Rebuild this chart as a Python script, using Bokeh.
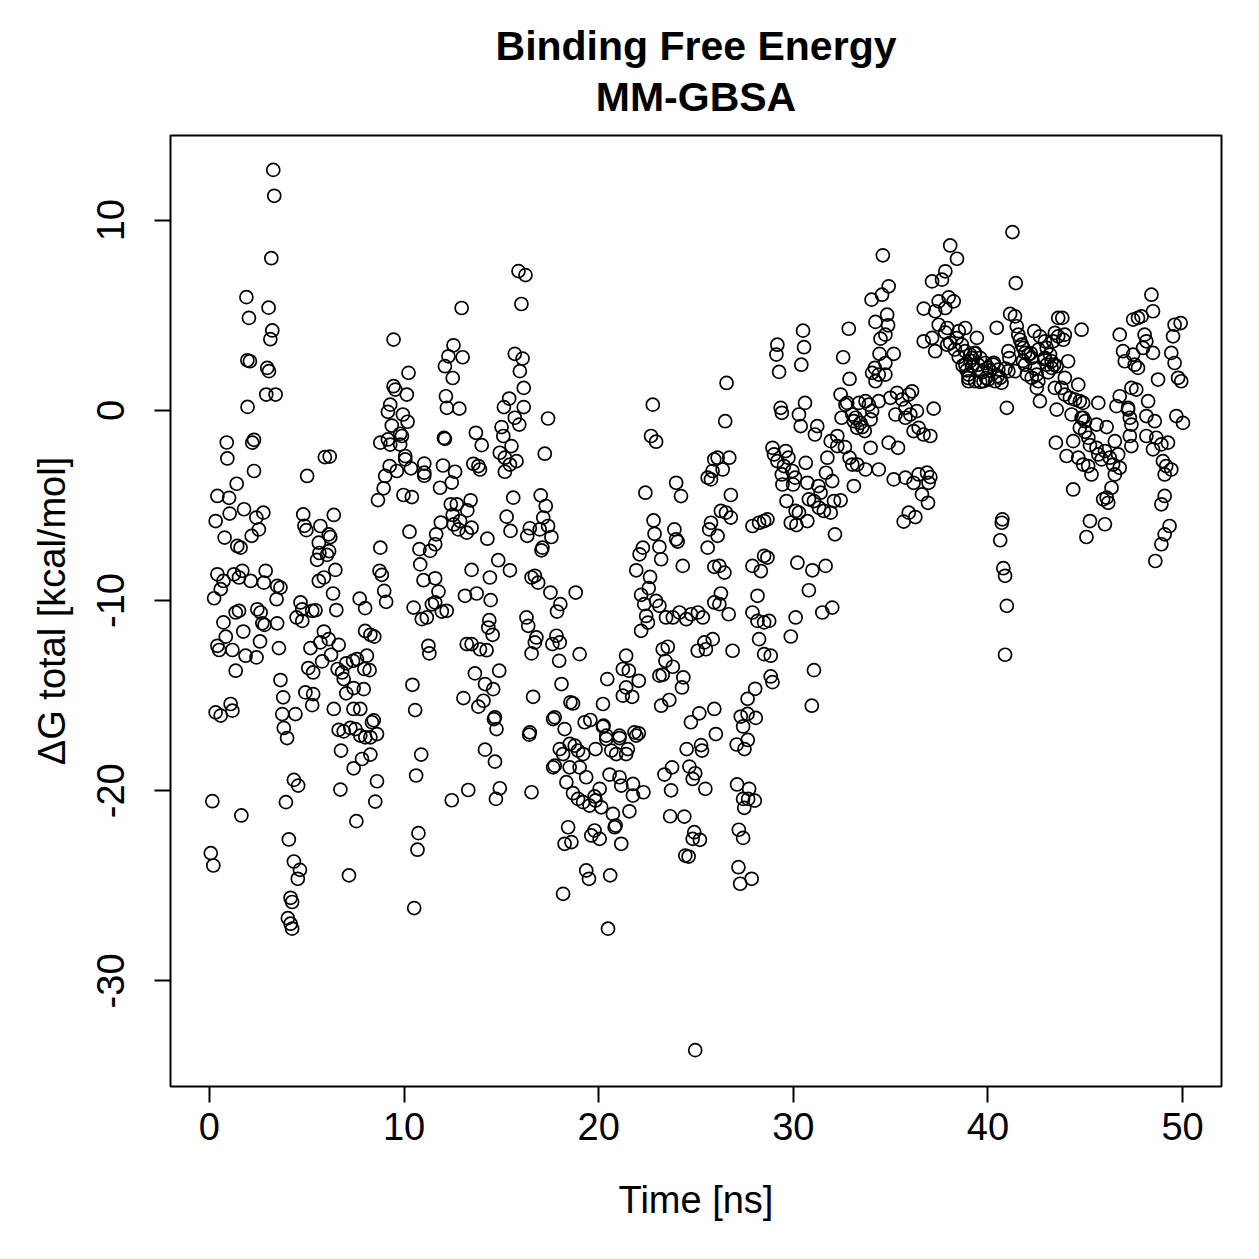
from bokeh.plotting import figure
from bokeh.models import Range1d, FixedTicker, Title, ColumnDataSource
from bokeh.embed import file_html
from bokeh.resources import INLINE

# ---- data: time [ns] and dG total [kcal/mol] ----
t_a = [3.28,3.33,3.18,1.9,3.04,2.03,3.23,3.13,1.95,2.08,
       2.97,3.06,2.92,3.4,1.96,0.89,2.29,2.2,0.92,2.29,
       1.4,0.41,1.01,5.02,5.93,6.18,1.78,1.04,2.77,2.41,
       0.32,2.54,2.17,0.78,1.43,1.6,4.82,5.7,4.88,4.98,
       6.39,5.62,6.13,6.21,5.65,6.15,8.78,9.46,10.23,9.46,
       9.55,10.14,9.29,9.17,9.94,10.18,9.37,9.8,9.89,8.78,
       9.17,9.29,9.8,10.06,10.06,10.35,9.26,9.03,9.63,11.04,
       11.04,11.04,8.95,8.66,9.97,10.4,10.28,10.79,11.34,11.6,
       11.65,11.89,12.1,12.28,12.54,12.15,12.2,12.5,12.05,12.1,
       12.0,11.85,12.45,12.4,12.5,12.55,12.96]
g_a = [12.64,11.28,8.0,5.95,5.4,4.86,4.2,3.74,2.63,2.58,
       2.23,2.06,0.83,0.83,0.18,-1.69,-1.55,-1.7,-2.53,-3.19,
       -3.86,-4.5,-4.6,-3.45,-2.46,-2.43,-5.2,-5.43,-5.38,-5.64,
       -5.82,-6.26,-6.6,-6.69,-7.13,-7.22,-5.47,-6.08,-6.07,-6.3,
       -5.5,-6.96,-6.52,-6.66,-7.5,-7.4,-7.22,3.72,1.97,1.27,
       1.09,0.83,0.3,-0.08,-0.22,-0.6,-0.8,-1.23,-1.35,-1.7,
       -1.53,-1.8,-1.8,-2.4,-2.58,-3.05,-2.93,-3.45,-3.19,-2.8,
       -3.28,-3.44,-4.1,-4.72,-4.45,-4.56,-6.38,-7.3,-7.39,-7.04,
       -6.52,-5.9,2.32,2.84,3.42,0.74,0.13,1.7,-1.45,-1.5,
       -2.9,-4.07,-3.8,-4.94,-5.5,-6.0,5.38]

t_b = [0.41,0.72,0.58,0.24,1.26,1.69,1.52,2.12,2.89,2.8,
       3.48,3.65,3.45,1.35,1.52,0.72,2.46,2.63,2.72,2.83,
       3.48,1.74,0.84,0.41,0.5,1.18,2.6,1.86,2.42,3.57,
       1.35,4.68,4.77,5.28,5.45,4.48,4.77,5.88,5.7,6.13,
       6.64,5.19,6.25,5.79,5.08,5.33,3.65,3.79,4.93,5.33,
       5.28,3.74,4.42,3.82,3.99,6.39,7.72,8.0,8.0,8.27,
       8.47,8.74,8.86,8.98,9.08,6.35,6.52,5.62,5.88,6.47,
       6.04,5.53,8.09,7.38,7.58,7.03,6.59,6.82,6.9,7.03,
       7.41,7.93,8.23,7.96,7.4,7.75,6.64,6.9,7.24,7.5,
       7.75,8.01,8.44,8.35,8.61,8.27,6.76,7.41,7.84,8.27,
       4.34,4.56,6.73,8.61,8.52,7.55,7.17,0.15,1.64,3.93,
       0.07,0.2,4.08,4.34,4.65,4.54,4.17,4.25,4.03,4.17,
       4.25,10.43,10.57,10.88,10.62,12.45,10.74,10.69,10.52,11.25,
       11.3,10.83,11.0,11.6,11.77,10.49,10.91,11.17,11.43,11.6,
       11.94,0.32,0.58,1.09,1.18]
g_b = [-8.62,-8.97,-9.4,-9.88,-8.62,-8.44,-8.79,-8.97,-8.44,-9.06,
       -9.23,-9.32,-9.93,-10.63,-10.54,-11.15,-10.46,-10.63,-11.2,-11.28,
       -11.2,-11.63,-11.9,-12.38,-12.6,-12.6,-12.15,-12.9,-12.99,-12.5,
       -13.69,-10.1,-10.46,-10.54,-10.51,-10.89,-11.07,-11.63,-12.2,-12.03,
       -12.33,-12.5,-12.85,-13.2,-13.55,-13.78,-14.18,-15.09,-14.83,-14.92,
       -15.5,-15.97,-15.97,-16.7,-17.23,-15.7,-9.9,-10.4,-11.6,-11.8,
       -11.9,-8.44,-8.65,-9.49,-10.07,-9.63,-10.5,-8.97,-8.79,-8.39,
       -7.6,-7.86,-12.9,-13.17,-13.08,-13.3,-13.6,-13.78,-14.13,-14.88,
       -14.6,-14.66,-13.66,-13.6,-15.7,-15.7,-16.8,-16.88,-16.7,-16.76,
       -17.1,-17.19,-16.3,-16.4,-17.02,-17.19,-17.89,-18.82,-18.33,-18.1,
       -19.43,-19.73,-19.94,-19.5,-20.57,-21.6,-24.45,-20.55,-21.3,-20.6,
       -23.28,-23.93,-22.56,-23.72,-24.16,-24.63,-25.63,-25.85,-26.7,-26.99,
       -27.25,-14.43,-15.76,-18.1,-19.2,-20.5,-22.23,-23.1,-26.17,-12.38,
       -12.78,-8.1,-8.93,-8.83,-9.53,-10.37,-10.98,-10.89,-10.2,-10.1,
       -10.58,-15.88,-16.05,-15.44,-15.79]

t_c = [13.01,12.84,13.69,13.99,13.56,13.82,13.9,12.62,12.71,13.42,
       13.25,12.88,12.79,13.22,13.47,14.28,15.69,16.09,15.95,16.15,
       15.4,15.13,16.15,15.69,15.92,15.01,15.1,15.52,14.92,15.18,
       15.78,15.44,15.18,15.61,17.4,17.23,15.27,15.47,16.33,16.46,
       16.97,17.02,17.28,17.15,17.4,17.57,17.11,17.06,13.47,14.41,
       14.84,15.44,13.13,13.73,14.45,14.38,14.33,14.55,12.19,13.22,
       13.47,13.9,14.24,13.64,14.16,14.58,14.89,13.05,14.08,13.82,
       14.67,14.75,16.72,16.89,17.52,16.55,16.29,16.38,16.8,16.72,
       16.55,17.83,17.62,18.0,17.97,18.09,16.63,18.82,18.03,17.86,
       19.02,18.55,18.68,17.74,18.25,16.46,19.28,19.57,20.22,20.25,
       20.44,20.39,21.07,21.41,21.24,21.55,22.06,21.41,21.24,21.72,
       21.84,22.06,22.78,22.69,22.95,22.4,23.98,24.23,22.82,22.87,
       23.89,23.98,24.06,22.27,22.1,23.12,23.21,21.93,24.32,22.64,
       22.57,22.18,22.34,22.95,23.12,22.44,22.53,22.18,23.46,23.81,
       24.15,24.5,24.75,25.1,25.35,25.6,25.85,25.94,25.68,25.6,
       25.94,25.94,23.29,23.55,23.43,23.12,23.29,23.81,24.35,24.28,
       25.09,25.43,25.86,23.63,23.21,24.74,25.17,25.94,26.02,15.88,
       16.24,16.03]
g_c = [2.79,0.09,-1.18,-1.83,-2.81,-2.93,-3.11,-3.23,-4.94,-4.73,
       -5.26,-5.82,-6.26,-6.43,-6.17,-6.75,2.97,2.72,2.06,1.18,
       0.62,0.17,0.17,-0.39,-0.75,-0.88,-1.35,-1.88,-2.23,-2.49,
       -2.67,-2.85,-3.23,-4.59,-0.43,-2.28,-5.59,-6.34,-6.6,-6.2,
       -6.26,-4.47,-5.03,-5.64,-6.08,-6.66,-7.22,-7.36,-8.39,-8.79,
       -7.88,-8.41,-9.75,-9.63,-9.98,-11.03,-11.42,-11.8,-10.54,-12.29,
       -12.29,-12.56,-12.61,-13.83,-14.39,-14.66,-13.69,-15.13,-15.27,-15.58,
       -16.14,-16.76,-8.7,-9.06,-9.58,-8.79,-10.89,-11.33,-11.94,-12.2,
       -12.78,-11.85,-12.29,-12.2,-13.17,-14.39,-15.06,-9.58,-10.19,-10.58,
       -12.82,-15.35,-15.41,-16.14,-16.76,-16.93,-16.4,-16.28,-15.44,-16.58,
       -14.13,-17.1,-17.1,-12.9,-13.6,-13.69,-14.22,-14.57,-15.0,-15.06,
       -16.93,-16.98,0.3,-1.35,-1.65,-4.33,-3.81,-4.51,-5.79,-6.49,
       -6.26,-6.78,-6.9,-7.22,-7.57,-7.18,-7.83,-8.41,-8.18,-8.76,
       -9.35,-9.7,-10.19,-10.02,-10.28,-10.81,-11.16,-11.59,-10.89,-10.89,
       -10.63,-10.98,-10.72,-10.63,-10.89,-3.54,-3.19,-2.58,-6.26,-7.22,
       -8.23,-10.1,-12.56,-12.43,-13.17,-13.95,-13.9,-13.48,-14.04,-14.57,
       -12.64,-12.2,-12.03,-15.23,-15.53,-16.4,-15.93,-15.7,-17.02,7.32,
       7.11,5.59]

t_d = [14.62,14.16,14.67,13.3,14.72,14.92,16.43,16.55,17.66,18.0,
       18.51,18.17,18.77,18.94,19.2,19.02,19.36,18.51,17.66,17.74,
       18.34,18.68,18.94,19.2,19.53,19.79,20.05,20.13,19.84,20.22,
       19.84,20.39,20.65,21.07,20.9,21.41,21.5,21.93,20.56,21.07,
       21.16,21.76,21.76,22.3,21.58,20.73,20.87,20.82,18.43,18.25,
       18.6,19.62,19.79,20.05,21.16,19.36,19.5,20.59,18.17,20.48,
       24.96,23.38,23.77,23.72,24.52,24.66,24.96,24.83,25.26,25.31,
       25.48,23.67,24.4,24.91,24.83,25.2,24.45,24.62]
g_d = [-16.23,-17.84,-18.47,-19.96,-20.43,-19.87,-17.05,-20.08,-16.23,-17.81,
       -17.54,-18.07,-17.63,-17.89,-18.07,-18.77,-19.29,-18.77,-18.77,-18.68,
       -19.55,-20.13,-20.43,-20.6,-20.78,-20.3,-19.9,-20.87,-20.51,-16.63,
       -17.81,-17.28,-17.89,-17.23,-18.07,-18.07,-17.81,-17.1,-19.15,-19.29,
       -19.73,-19.64,-20.25,-20.08,-21.08,-21.22,-21.83,-21.92,-21.92,-22.79,
       -22.7,-22.35,-22.09,-22.53,-22.79,-24.19,-24.63,-24.45,-25.42,-27.25,
       -33.64,-19.15,-18.77,-19.98,-17.81,-18.73,-19.08,-19.38,-17.6,-17.89,
       -19.9,-21.34,-21.36,-22.18,-22.53,-22.58,-23.41,-23.46]

t_e = [25.51,26.88,28.24,28.5,28.84,29.87,31.06,30.95,28.84,
       28.93,28.04,27.65,27.3,27.65,28.07,27.42,27.66,27.09,27.49,
       27.11,27.73,27.42,27.68,28.02,27.48,27.2,27.42,27.18,27.86,
       27.27]
g_e = [-12.56,-12.64,-12.03,-12.82,-12.9,-11.89,-13.66,-15.53,-13.99,
       -14.29,-14.64,-15.17,-16.1,-15.96,-16.17,-16.62,-17.33,-17.57,-17.81,
       -19.67,-19.9,-20.43,-20.43,-20.52,-20.9,-22.05,-22.48,-24.02,-24.63,
       -24.89]

t_f = [26.57,26.5,26.11,26.71,26.37,25.77,26.79,26.28,26.54,26.79,
       25.77,26.11,26.2,26.46,26.28,26.2,26.68,29.18,29.13,29.27,
       30.5,30.55,30.41,29.35,29.41,30.29,30.6,30.38,31.23,31.11,
       28.93,29.01,29.61,29.75,29.18,29.52,29.41,29.95,30.09,29.44,
       29.99,30.64,30.72,29.65,30.12,30.29,29.87,30.16,30.72,31.29,
       31.4,30.8,31.06,31.32,31.57,31.92,31.68,32.0,32.09,32.43,
       32.14,31.75,31.92,32.26,32.48,32.43,32.68,32.26,32.65,32.89,
       33.03,33.11,33.28,33.71,34.39,33.97,34.9,35.38,35.16,35.76,
       35.93,35.67,36.27,36.18,36.44,36.87,37.04,36.95,36.61,36.92,
       32.85,32.56,32.89,32.77,33.03,33.2,33.37,33.45,33.71,33.88,
       33.97,33.54,34.05,33.67,34.39,33.28,33.11,34.02,34.56,34.9,
       34.6,34.22,34.82,34.87,34.73,34.48,34.43,35.16,34.73,34.19,
       34.05,34.39,34.73,34.22,34.99,35.33,35.59,35.93,36.1,35.76,
       36.01,36.35,36.18,36.44,36.69,37.04,37.21,35.76,35.25,38.06,
       38.41,37.81,37.13,37.64,36.7,37.47,37.98,38.24,37.29,37.81,
       36.7,37.13,37.47,37.91,37.29,37.91,38.5,38.66,39.0,39.0,
       39.18,38.84,27.9,28.24,28.5,28.67,28.5,28.67,27.9,28.33,
       30.21,30.98,31.66,30.8,28.16,27.9,28.16,28.5,28.76,30.12,
       31.49,32.0]
g_f = [1.44,-0.57,-2.49,-2.49,-3.11,-3.63,-4.45,-5.29,-5.38,-5.64,
       -5.91,-6.6,-8.18,-8.53,-9.63,-10.19,-10.72,3.45,2.93,2.02,
       4.19,3.32,2.4,0.13,-0.13,-0.22,0.39,-0.83,-0.83,-1.27,
       -1.97,-2.32,-2.14,-2.49,-2.67,-2.93,-3.37,-3.19,-3.54,-3.9,
       -3.9,-2.76,-3.81,-4.77,-5.29,-5.38,-5.91,-6.03,-5.82,-3.98,
       -4.33,-4.68,-4.77,-5.12,-5.29,-5.38,-3.28,-3.72,-4.77,-4.73,
       -6.52,-2.49,-1.62,-1.35,-0.39,0.83,0.3,-1.88,-1.93,-2.49,
       -2.85,-3.98,-2.85,-3.11,-3.11,-1.97,-1.7,-1.97,-3.63,-3.54,
       -5.38,-5.85,-5.61,-3.81,-3.37,-3.28,-3.51,-3.81,-4.42,-4.86,
       4.29,2.79,1.65,0.39,-0.22,-0.39,0.39,-0.66,0.48,0.3,
       -0.48,-0.88,-0.04,-1.09,0.48,-0.92,-0.57,5.82,6.08,6.52,
       8.15,4.65,5.03,4.47,3.98,3.77,2.97,2.97,2.49,2.23,
       1.97,1.88,1.88,1.53,0.66,0.92,0.57,0.83,1.0,0.13,
       -0.22,-0.04,-1.09,-0.92,-1.27,-1.35,0.09,-0.39,-0.22,8.67,
       7.97,7.31,6.78,6.87,5.35,5.73,5.94,5.73,5.21,5.38,
       3.63,3.81,4.5,4.33,3.11,3.45,4.16,3.45,1.53,1.88,
       2.76,2.4,-6.08,-5.91,-5.82,-5.73,-7.65,-7.74,-8.18,-8.45,
       -8.01,-8.41,-8.18,-9.46,-9.75,-10.63,-11.07,-11.15,-11.07,-10.89,
       -10.63,-10.37]

t_g = [41.26,41.43,41.14,41.39,41.48,41.56,41.65,41.74,41.82,41.91,
       42.08,42.25,42.38,42.67,42.93,43.02,43.19,43.27,43.53,43.61,
       43.82,43.61,43.95,43.87,43.35,43.44,41.91,42.0,42.25,42.51,
       42.59,42.51,42.67,42.93,43.02,43.27,43.44,43.78,43.95,44.12,
       44.64,43.95,44.21,44.47,44.72,44.89,43.53,44.3,44.81,44.99,
       45.67,45.58,44.72,44.99,45.16,45.24,46.1,47.2,46.77,46.6,
       44.81,44.38,44.64,44.89,45.15,45.32,45.58,45.67,45.84,46.01,
       46.26,46.43,46.52,46.69,46.77,46.52,46.35,46.1,45.92,46.18,
       46.01,45.24,45.06,44.38,44.04,43.49,44.89,46.77,46.94,47.03,
       47.46,47.54,47.71,47.46,47.71,47.89,48.05,48.14,47.97,48.4,
       48.48,48.48,48.74,48.23,48.14,48.57,48.14,48.65,48.48,48.91,
       49.25,48.99,49.16,49.42,49.08,49.08,48.91,49.33,49.08,48.91,
       48.6,47.37,47.62,47.2,47.29,47.37,47.29,47.37,49.59,49.9,
       49.51,49.42,49.59,49.93,49.77,49.68,50.02,38.83,39.43,40.45,
       41.05,38.83,39.09,39.34,39.6,39.86,40.02,40.28,40.53,39.34,
       39.77,40.02,40.37,40.63,41.05,41.39,39.18,40.97,40.74,40.71,
       40.63,40.79,40.88,40.97,40.88]
g_g = [9.37,6.69,5.07,4.94,4.42,3.98,3.71,3.45,3.28,3.02,
       2.93,2.76,4.16,3.89,3.63,3.28,2.93,2.58,2.32,4.86,
       4.86,3.89,3.98,3.71,3.63,4.07,2.4,1.88,1.71,1.88,
       1.53,1.18,0.48,2.76,2.4,2.23,1.18,1.18,1.71,2.58,
       1.35,0.83,0.66,0.57,0.48,0.39,0.04,-0.22,-0.39,-0.57,
       0.39,-0.75,-0.92,-1.13,-1.44,-1.83,-0.88,0.13,0.74,0.22,
       4.24,-1.62,-2.49,-2.85,-2.93,-3.37,-1.97,-2.32,-2.58,-2.14,
       -2.49,-2.85,-1.62,-2.32,-3.02,-3.37,-4.07,-4.59,-4.68,-4.86,
       -5.99,-5.82,-6.66,-4.16,-2.4,-1.7,-0.39,3.98,3.11,2.58,
       2.93,2.4,2.23,4.77,4.86,4.94,3.98,3.63,3.28,6.08,
       5.21,3.02,1.62,0.48,-0.3,-0.57,-1.35,-1.44,-2.05,-1.79,
       -1.7,-2.67,-2.93,-3.11,-3.37,-4.5,-4.94,-6.08,-6.52,-7.04,
       -7.92,1.18,1.09,0.04,-0.39,-0.75,-1.35,-1.88,4.5,4.59,
       3.89,3.02,2.49,1.53,1.71,-0.3,-0.66,4.33,3.81,4.34,
       3.11,3.11,2.93,3.02,2.76,2.49,2.23,2.4,2.14,1.53,
       1.53,1.62,1.53,1.71,2.06,2.06,2.32,0.13,-5.73,-5.91,
       -6.83,-8.3,-8.7,-10.28,-12.85]

t_h = [37.8,38.06,38.3,38.5,38.7,38.9,39.1,39.3,39.5,39.7,
       39.9,40.1,40.3,40.5,40.7,40.9,41.1,39.0,39.6,38.4,
       42.2,42.6,42.9,43.1,43.4,42.4,41.8]
g_h = [4.1,3.55,3.2,2.8,2.35,2.1,2.6,3.0,2.4,2.0,
       1.7,2.1,2.5,1.8,1.45,2.2,2.75,1.7,1.5,3.8,
       3.0,3.2,2.7,2.0,2.4,2.2,2.6]

x_ticks = [0, 10, 20, 30, 40, 50]
y_ticks = [-30, -20, -10, 0, 10]
title_lines = ["Binding Free Energy", "MM-GBSA"]
x_label = "Time [ns]"
y_label = "\u0394G total [kcal/mol]"

time_ns = t_a + t_b + t_c + t_d + t_e + t_f + t_g + t_h
dg_total = g_a + g_b + g_c + g_d + g_e + g_f + g_g + g_h

FONT = "Liberation Sans"

p = figure(width=1259, height=1259, output_backend="svg", toolbar_location=None,
           x_range=Range1d(-2, 52), y_range=Range1d(-35.55, 14.45),
           min_border_left=170, min_border_right=38,
           min_border_top=135, min_border_bottom=173,
           background_fill_color="white", border_fill_color="white")

p.add_layout(Title(text="\n".join(title_lines), align="center", text_align="center",
                   text_font=FONT, text_font_size="41px", text_font_style="bold",
                   text_line_height=1.11, text_color="black", standoff=31), "above")

src = ColumnDataSource(dict(t=time_ns, g=dg_total))
p.scatter("t", "g", source=src, marker="circle", size=13,
          fill_color=None, line_color="black", line_width=1.7)

p.grid.visible = False
p.outline_line_color = "black"
p.outline_line_width = 2

for ax in (p.xaxis[0], p.yaxis[0]):
    ax.axis_line_color = None
    ax.major_tick_line_color = "black"
    ax.major_tick_line_width = 2
    ax.major_tick_out = 16
    ax.major_tick_in = 0
    ax.minor_tick_line_color = None
    ax.major_label_text_font = FONT
    ax.major_label_text_font_size = "38px"
    ax.major_label_text_color = "black"
    ax.axis_label_text_font = FONT
    ax.axis_label_text_font_size = "38px"
    ax.axis_label_text_font_style = "normal"
    ax.axis_label_text_color = "black"

p.xaxis.ticker = FixedTicker(ticks=x_ticks)
p.yaxis.ticker = FixedTicker(ticks=y_ticks)
p.xaxis.major_label_overrides = {v: str(v) for v in x_ticks}
p.yaxis.major_label_overrides = {v: str(v) for v in y_ticks}
p.yaxis.major_label_orientation = "vertical"
p.xaxis.major_label_standoff = 10
p.yaxis.major_label_standoff = 30
p.xaxis.axis_label = x_label
p.yaxis.axis_label = y_label
p.xaxis.axis_label_standoff = 36
p.yaxis.axis_label_standoff = 22

open("out.html", "w").write(file_html(p, INLINE))
